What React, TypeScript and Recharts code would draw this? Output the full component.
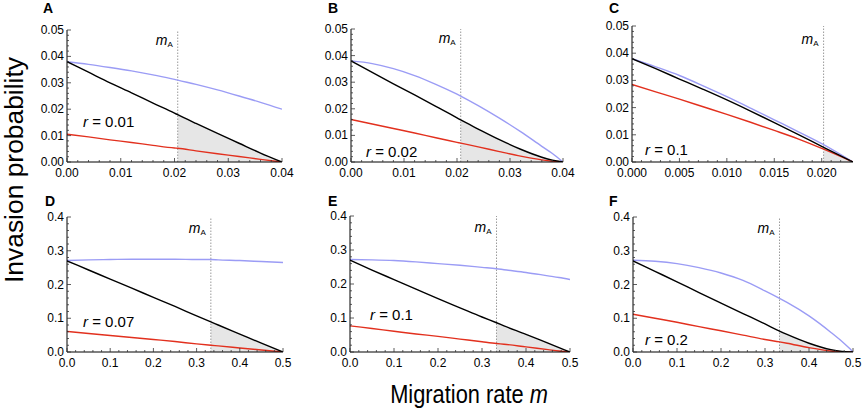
import React from 'react';
import { ComposedChart, Line, Area, XAxis, YAxis, ReferenceLine } from 'recharts';

const FONT = '"Liberation Sans", Arial, Helvetica, sans-serif';
const BLUE = '#9b9cf5';
const RED = '#e2301e';
const BLACK = '#000000';
const SHADE = '#e6e6e6';

// ---- Panel A (r = 0.01) ----
const A_x = [0, 0.004, 0.008, 0.012, 0.016, 0.02, 0.0206, 0.024, 0.028, 0.032, 0.036, 0.04];
const A_blue = [0.038, 0.037, 0.0358, 0.0345, 0.033, 0.0313, 0.031, 0.0294, 0.0273, 0.025, 0.0226, 0.02];
const A_black = [0.038, 0.034, 0.03, 0.0262, 0.0223, 0.0185, 0.0179, 0.0146, 0.0108, 0.0071, 0.0034, 0];
const A_red = [0.0105, 0.0095, 0.0084, 0.0074, 0.0063, 0.0053, 0.0052, 0.0042, 0.0031, 0.0021, 0.001, 0];
const A_mA = 0.0206;

// ---- Panel B (r = 0.02) ----
const B_x = [0, 0.004, 0.008, 0.012, 0.016, 0.02, 0.0207, 0.024, 0.028, 0.032, 0.036, 0.038, 0.04];
const B_blue = [0.038, 0.037, 0.0351, 0.0325, 0.0292, 0.0255, 0.0248, 0.0212, 0.0165, 0.0114, 0.0059, 0.0032, 0];
const B_black = [0.038, 0.0337, 0.0294, 0.0252, 0.0209, 0.0166, 0.0158, 0.0124, 0.0084, 0.0048, 0.0018, 0.0007, 0];
const B_red = [0.016, 0.0143, 0.0126, 0.0109, 0.0091, 0.0074, 0.0071, 0.0057, 0.0039, 0.0022, 0.0008, 0.0003, 0];
const B_mA = 0.0207;

// ---- Panel C (r = 0.1) ----
const C_x = [0, 0.0025, 0.005, 0.0075, 0.01, 0.0125, 0.015, 0.0175, 0.0202, 0.0233];
const C_blue = [0.038, 0.035, 0.0318, 0.028, 0.024, 0.0198, 0.0155, 0.0112, 0.0064, 0];
const C_black = [0.038, 0.0343, 0.0305, 0.0267, 0.0228, 0.0187, 0.0145, 0.0102, 0.0054, 0];
const C_red = [0.0285, 0.0258, 0.0231, 0.0203, 0.0175, 0.0146, 0.0116, 0.0085, 0.0047, 0];
const C_mA = 0.0202;

// ---- Panel D (r = 0.07) ----
const D_x = [0, 0.05, 0.1, 0.15, 0.2, 0.25, 0.3, 0.333, 0.35, 0.4, 0.45, 0.5];
const D_blue = [0.271, 0.273, 0.274, 0.275, 0.275, 0.275, 0.274, 0.274, 0.273, 0.271, 0.268, 0.265];
const D_black = [0.27, 0.243, 0.216, 0.189, 0.162, 0.135, 0.107, 0.089, 0.08, 0.053, 0.026, 0];
const D_red = [0.061, 0.055, 0.049, 0.043, 0.037, 0.031, 0.024, 0.02, 0.018, 0.012, 0.006, 0];
const D_mA = 0.333;

// ---- Panel E (r = 0.1) ----
const E_x = [0, 0.05, 0.1, 0.15, 0.2, 0.25, 0.3, 0.333, 0.35, 0.4, 0.45, 0.475, 0.5];
const E_blue = [0.272, 0.271, 0.269, 0.265, 0.26, 0.255, 0.249, 0.245, 0.242, 0.234, 0.224, 0.219, 0.213];
const E_black = [0.27, 0.241, 0.213, 0.185, 0.157, 0.13, 0.103, 0.086, 0.077, 0.052, 0.026, 0.013, 0];
const E_red = [0.077, 0.069, 0.061, 0.053, 0.046, 0.038, 0.03, 0.025, 0.023, 0.015, 0.007, 0.003, 0];
const E_mA = 0.333;

// ---- Panel F (r = 0.2) ----
const F_x = [0, 0.05, 0.1, 0.15, 0.2, 0.25, 0.3, 0.333, 0.35, 0.4, 0.45, 0.475, 0.49, 0.5];
const F_blue = [0.272, 0.269, 0.262, 0.25, 0.234, 0.212, 0.181, 0.159, 0.147, 0.107, 0.058, 0.031, 0.013, 0];
const F_black = [0.27, 0.239, 0.208, 0.176, 0.145, 0.114, 0.083, 0.062, 0.052, 0.026, 0.007, 0.002, 0.0005, 0];
const F_red = [0.112, 0.1, 0.088, 0.075, 0.063, 0.05, 0.037, 0.03, 0.026, 0.013, 0.003, 0.0005, 0, 0];
const F_mA = 0.333;

// tick steps
const TOP_Y_MAJOR = 0.01;
const TOP_X_MAJOR = 0.01;
const C_X_MAJOR = 0.005;
const BOT_MAJOR = 0.1;

function range(start: number, end: number, step: number): number[] {
  const out: number[] = [];
  const n = Math.round((end - start) / step);
  for (let i = 0; i <= n; i++) out.push(+(start + i * step).toFixed(6));
  return out;
}

function buildRows(xs: number[], blue: number[], black: number[], red: number[], mA: number) {
  return xs.map((x, i) => ({
    x,
    blue: blue[i],
    black: black[i],
    red: red[i],
    shade: x >= mA - 1e-9 ? [0, black[i]] : null,
  }));
}

const isMajor = (v: number, step: number) => Math.abs(v / step - Math.round(v / step)) < 1e-6;

function XTick(props: any) {
  const { x, y, payload, major, decimals } = props;
  const v = payload.value;
  const mj = isMajor(v, major);
  return (
    <g>
      <line x1={x} x2={x} y1={y} y2={y - (mj ? 4 : 2)} stroke="#333" strokeWidth={0.8} />
      {mj && (
        <text x={x} y={y + 15} textAnchor="middle" fontSize={12} fontFamily={FONT} fill="#000">
          {v.toFixed(decimals)}
        </text>
      )}
    </g>
  );
}

function YTick(props: any) {
  const { x, y, payload, major, decimals } = props;
  const v = payload.value;
  const mj = isMajor(v, major);
  return (
    <g>
      <line x1={x} x2={x + (mj ? 4 : 2)} y1={y} y2={y} stroke="#333" strokeWidth={0.8} />
      {mj && (
        <text x={x - 3} y={y + 4} textAnchor="end" fontSize={12} fontFamily={FONT} fill="#000">
          {v.toFixed(decimals)}
        </text>
      )}
    </g>
  );
}

type PanelProps = {
  left: number;
  top: number;
  w: number;
  h: number;
  rows: any[];
  xMax: number;
  yMax: number;
  xTicks: number[];
  yTicks: number[];
  xMajor: number;
  yMajor: number;
  xDec: number;
  yDec: number;
  mA: number;
  mALabelDy: number;
};

const YW = 45;
const XH = 25;
const MT = 10;
const MR = 12;

function Panel(p: PanelProps) {
  const width = p.w + YW + MR;
  const height = p.h + MT + XH;
  return (
    <div style={{ position: 'absolute', left: p.left - YW, top: p.top - MT, width, height }}>
      <ComposedChart
        width={width}
        height={height}
        data={p.rows}
        margin={{ top: MT, right: MR, bottom: 0, left: 0 }}
      >
        <XAxis
          type="number"
          dataKey="x"
          domain={[0, p.xMax]}
          allowDataOverflow
          ticks={p.xTicks}
          interval={0}
          height={XH}
          tickSize={0}
          tickMargin={0}
          tickLine={false}
          axisLine={{ stroke: '#000', strokeWidth: 1 }}
          tick={(tp: any) => <XTick {...tp} major={p.xMajor} decimals={p.xDec} />}
        />
        <YAxis
          type="number"
          domain={[0, p.yMax]}
          allowDataOverflow
          ticks={p.yTicks}
          interval={0}
          width={YW}
          tickSize={0}
          tickMargin={0}
          tickLine={false}
          axisLine={{ stroke: '#000', strokeWidth: 1 }}
          tick={(tp: any) => <YTick {...tp} major={p.yMajor} decimals={p.yDec} />}
        />
        <Area
          type="monotone"
          dataKey="shade"
          stroke="none"
          strokeWidth={0}
          fill={SHADE}
          fillOpacity={1}
          isAnimationActive={false}
          connectNulls={false}
          activeDot={false}
          dot={false}
        />
        <ReferenceLine
          x={p.mA}
          stroke="#9a9a9a"
          strokeDasharray="1.5 1.5"
          strokeWidth={1}
          label={{
            content: (lp: any) => {
              const vb = lp.viewBox || {};
              return (
                <text x={vb.x - 5} y={vb.y + p.mALabelDy} textAnchor="end" fontFamily={FONT} fill="#000">
                  <tspan fontSize={14} fontStyle="italic">m</tspan>
                  <tspan fontSize={8} dy={2}>A</tspan>
                </text>
              );
            },
          }}
        />
        <Line type="monotone" dataKey="blue" stroke={BLUE} strokeWidth={1.4} dot={false} activeDot={false} isAnimationActive={false} />
        <Line type="monotone" dataKey="red" stroke={RED} strokeWidth={1.4} dot={false} activeDot={false} isAnimationActive={false} />
        <Line type="monotone" dataKey="black" stroke={BLACK} strokeWidth={1.4} dot={false} activeDot={false} isAnimationActive={false} />
      </ComposedChart>
    </div>
  );
}

const topX = range(0, 0.04, 0.002);
const topY = range(0, 0.05, 0.002);
const cX = range(0, 0.023, 0.001);
const botX = range(0, 0.5, 0.02);
const botY = range(0, 0.4, 0.02);

const letters = [
  { t: 'A', x: 43, y: 13 },
  { t: 'B', x: 328, y: 13 },
  { t: 'C', x: 609, y: 13 },
  { t: 'D', x: 45, y: 206 },
  { t: 'E', x: 328, y: 206 },
  { t: 'F', x: 609, y: 206 },
];

const rLabels = [
  { v: '0.01', x: 83, y: 127 },
  { v: '0.02', x: 366, y: 157 },
  { v: '0.1', x: 645, y: 155 },
  { v: '0.07', x: 83, y: 327 },
  { v: '0.1', x: 370, y: 320 },
  { v: '0.2', x: 645, y: 345 },
];

export default function App() {
  return (
    <div
      style={{
        position: 'absolute',
        left: 0,
        top: 0,
        width: 864,
        height: 411,
        background: '#fff',
        fontFamily: FONT,
        overflow: 'hidden',
      }}
    >
      <Panel left={67} top={30} w={215} h={132} rows={buildRows(A_x, A_blue, A_black, A_red, A_mA)}
        xMax={0.04} yMax={0.05} xTicks={topX} yTicks={topY} xMajor={TOP_X_MAJOR} yMajor={TOP_Y_MAJOR}
        xDec={2} yDec={2} mA={A_mA} mALabelDy={15} />
      <Panel left={351} top={29} w={212} h={133} rows={buildRows(B_x, B_blue, B_black, B_red, B_mA)}
        xMax={0.04} yMax={0.05} xTicks={topX} yTicks={topY} xMajor={TOP_X_MAJOR} yMajor={TOP_Y_MAJOR}
        xDec={2} yDec={2} mA={B_mA} mALabelDy={14} />
      <Panel left={632} top={26} w={221} h={136} rows={buildRows(C_x, C_blue, C_black, C_red, C_mA)}
        xMax={0.0233} yMax={0.05} xTicks={cX} yTicks={topY} xMajor={C_X_MAJOR} yMajor={TOP_Y_MAJOR}
        xDec={3} yDec={2} mA={C_mA} mALabelDy={18} />
      <Panel left={67} top={217} w={216} h={135} rows={buildRows(D_x, D_blue, D_black, D_red, D_mA)}
        xMax={0.5} yMax={0.4} xTicks={botX} yTicks={botY} xMajor={BOT_MAJOR} yMajor={BOT_MAJOR}
        xDec={1} yDec={1} mA={D_mA} mALabelDy={16} />
      <Panel left={350} top={216} w={220} h={136} rows={buildRows(E_x, E_blue, E_black, E_red, E_mA)}
        xMax={0.5} yMax={0.4} xTicks={botX} yTicks={botY} xMajor={BOT_MAJOR} yMajor={BOT_MAJOR}
        xDec={1} yDec={1} mA={E_mA} mALabelDy={16} />
      <Panel left={633} top={217} w={220} h={135} rows={buildRows(F_x, F_blue, F_black, F_red, F_mA)}
        xMax={0.5} yMax={0.4} xTicks={botX} yTicks={botY} xMajor={BOT_MAJOR} yMajor={BOT_MAJOR}
        xDec={1} yDec={1} mA={F_mA} mALabelDy={16} />

      <svg
        width={864}
        height={411}
        style={{ position: 'absolute', left: 0, top: 0, pointerEvents: 'none' }}
      >
        {letters.map((l) => (
          <text key={l.t} x={l.x} y={l.y} fontSize={14} fontWeight="bold" fontFamily={FONT} fill="#000">
            {l.t}
          </text>
        ))}
        {rLabels.map((r, i) => (
          <text key={i} x={r.x} y={r.y} fontSize={15} fontFamily={FONT} fill="#000">
            <tspan fontStyle="italic">r</tspan>
            {' = ' + r.v}
          </text>
        ))}
        <text
          transform="translate(469,403) scale(0.84,1)"
          textAnchor="middle"
          fontSize={26}
          fontFamily={FONT}
          fill="#000"
        >
          Migration rate <tspan fontStyle="italic">m</tspan>
        </text>
        <text
          transform="translate(23,170) rotate(-90)"
          textAnchor="middle"
          fontSize={26}
          fontFamily={FONT}
          fill="#000"
          textLength={226}
          lengthAdjust="spacingAndGlyphs"
        >
          Invasion probability
        </text>
      </svg>
    </div>
  );
}
